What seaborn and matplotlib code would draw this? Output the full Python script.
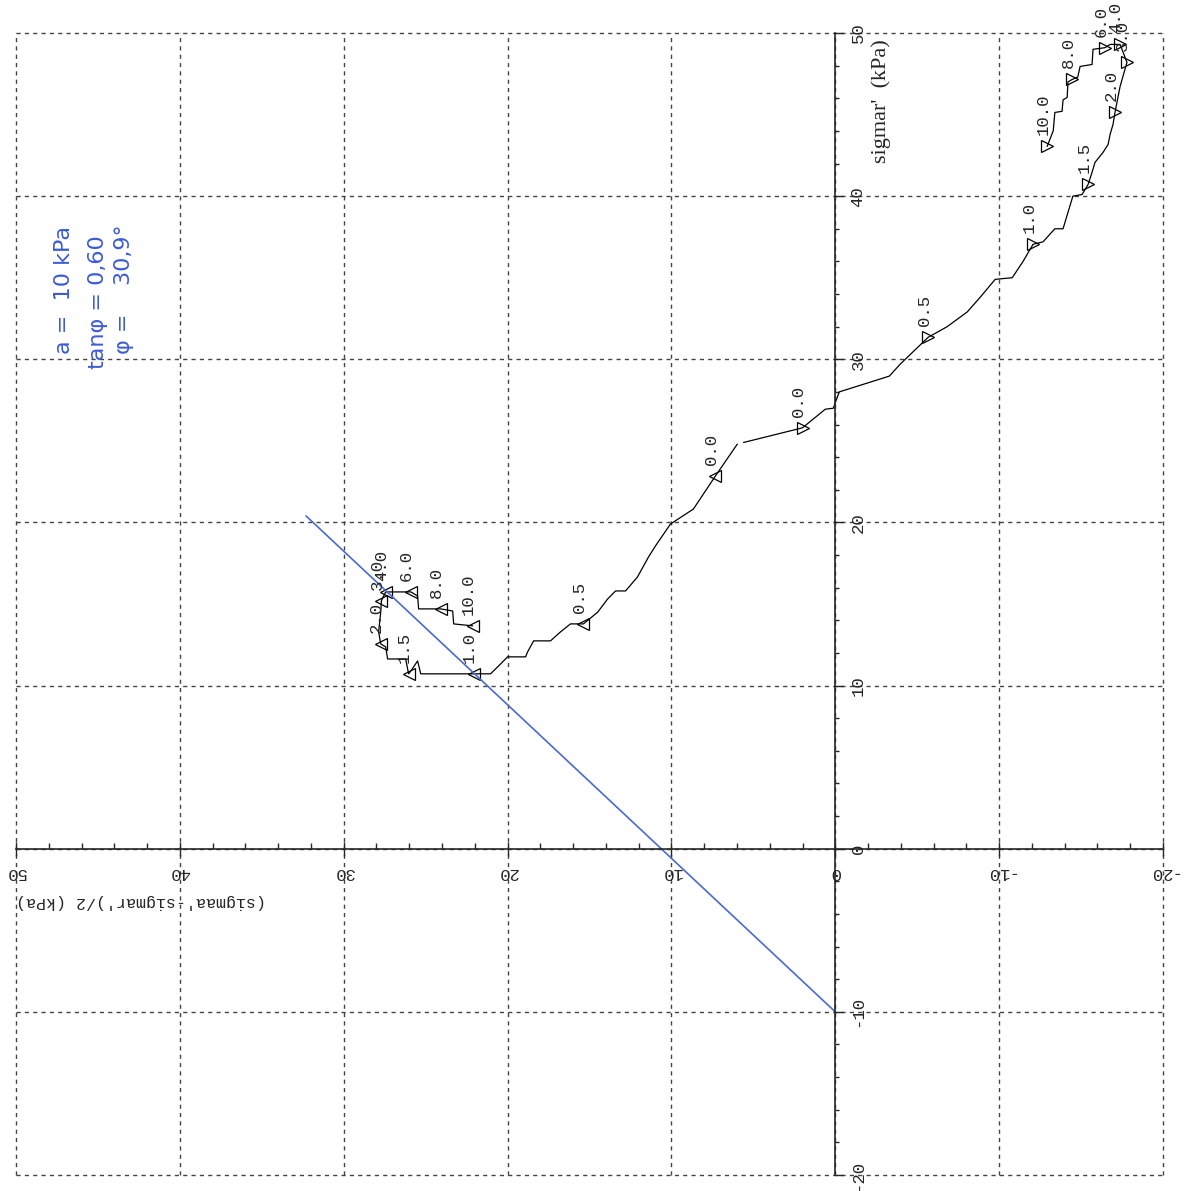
import matplotlib
matplotlib.use("Agg")
import matplotlib.pyplot as plt
from matplotlib.ticker import MultipleLocator
import seaborn as sns

# stress paths read off the (rotated) plot
# q = (sigmaa'-sigmar')/2, s = sigmar'
q_ext = [5.6, 2.0, 0.61, 0.12, -0.24, -3.3, -3.96, -4.27, -5.67, -6.83, -8.05, -8.84, -9.76,
         -10.8, -11.46, -12.07, -12.68, -13.4, -13.9, -14.2, -14.5, -15.06, -15.43, -15.67,
         -15.85, -16.34, -16.65, -16.77, -16.95, -17.07, -17.38, -17.8, -17.38, -16.77, -16.46,
         -15.73, -15.67, -14.94, -14.8, -14.45, -14.2, -14.15, -13.9, -13.84, -13.4, -13.3, -12.93]
s_ext = [24.9, 25.8, 26.94, 27.0, 28.0, 28.97, 29.7, 30.0, 31.35, 32.0, 32.9, 33.8, 34.9,
         35.0, 36.0, 37.05, 37.2, 38.0, 38.0, 39.0, 40.0, 40.1, 40.72, 41.46,
         42.07, 42.68, 43.17, 43.78, 44.4, 45.13, 46.72, 48.2, 49.3, 49.3, 49.1,
         49.0, 48.07, 47.95, 47.3, 47.15, 47.0, 46.05, 45.9, 45.2, 45.13, 44.0, 43.05]

q_cmp = [5.98, 7.32, 8.66, 10.06, 10.98, 11.4, 12.07, 12.8, 13.41, 13.9, 14.5, 15.37, 16.16,
         16.77, 17.38, 18.41, 18.78, 18.9, 20.0, 20.55, 21.04, 22.07, 25.3, 25.49, 25.9, 26.04,
         26.22, 27.32, 27.44, 27.74, 27.87, 27.74, 27.7, 27.44, 25.9, 25.49, 25.43, 24.09,
         23.35, 23.29, 22.13]
s_cmp = [24.8, 22.84, 20.82, 19.9, 18.55, 17.88, 16.66, 15.8, 15.8, 15.3, 14.5, 13.78, 13.78,
         13.29, 12.74, 12.74, 12.06, 11.76, 11.76, 11.2, 10.72, 10.72, 10.72, 11.51, 10.9, 10.72,
         11.63, 11.63, 12.37, 12.55, 13.29, 14.51, 15.2, 15.74, 15.74, 15.49, 14.7, 14.7,
         14.57, 13.78, 13.66]

times = ["0.0", "0.5", "1.0", "1.5", "2.0", "3.0", "4.0", "6.0", "8.0", "10.0"]
q_ext_mark = [2.0, -5.67, -12.07, -15.43, -17.07, -17.8, -17.38, -16.46, -14.45, -12.93]
s_ext_mark = [25.8, 31.35, 37.05, 40.72, 45.13, 48.2, 49.3, 49.1, 47.15, 43.05]
q_cmp_mark = [7.32, 15.37, 22.07, 26.04, 27.74, 27.7, 27.44, 25.9, 24.09, 22.13]
s_cmp_mark = [22.84, 13.78, 10.72, 10.72, 12.55, 15.2, 15.74, 15.74, 14.7, 13.66]

# hand drawn failure line
q_fail = [0.0, 32.3]
s_fail = [-10.0, 20.4]

notes = ["a =  10 kPa", "tan\u03c6 = 0,60", "\u03c6 =    30,9\u00b0"]

sns.set_style("white")
plt.rcParams["font.family"] = ["Liberation Mono", "DejaVu Sans"]
plt.rcParams["axes.unicode_minus"] = False

fig = plt.figure(figsize=(11.84, 11.91), dpi=100)
ax = fig.add_axes([16 / 1184, 1 - 1175 / 1191, 1147 / 1184, 1142 / 1191])

sns.lineplot(x=q_ext, y=s_ext, sort=False, estimator=None, color="black", lw=0.9, ax=ax)
sns.lineplot(x=q_cmp, y=s_cmp, sort=False, estimator=None, color="black", lw=0.9, ax=ax)
ax.plot(q_ext_mark, s_ext_mark, ">", ms=8.5, mfc="none", mec="black", mew=0.9)
ax.plot(q_cmp_mark, s_cmp_mark, "<", ms=8.5, mfc="none", mec="black", mew=0.9)
for qs, ss in [(q_ext_mark, s_ext_mark), (q_cmp_mark, s_cmp_mark)]:
    for t, qv, sv in zip(times, qs, ss):
        ax.annotate(t, (qv, sv), xytext=(-3, 8), textcoords="offset points",
                    rotation=90, ha="center", va="bottom", fontsize=12.5,
                    annotation_clip=False)

sns.lineplot(x=q_fail, y=s_fail, sort=False, estimator=None, color="#4a6ad0", lw=1.2, ax=ax)

ax.set_xlim(50, -20)
ax.set_ylim(-20, 50)

for sp in ["top", "left"]:
    ax.spines[sp].set_visible(False)
ax.spines["bottom"].set_position(("data", 0))
ax.spines["right"].set_position(("data", 0))
ax.spines["bottom"].set_linewidth(1.2)
ax.spines["right"].set_linewidth(1.2)
ax.yaxis.set_ticks_position("right")
ax.xaxis.set_ticks_position("bottom")

ax.xaxis.set_major_locator(MultipleLocator(10))
ax.xaxis.set_minor_locator(MultipleLocator(2))
ax.yaxis.set_major_locator(MultipleLocator(10))
ax.yaxis.set_minor_locator(MultipleLocator(2))
ax.tick_params(axis="x", which="major", direction="inout", length=10, width=1, pad=7,
               labelsize=12.5, labelrotation=180)
ax.tick_params(axis="x", which="minor", direction="in", length=4, width=1)
ax.tick_params(axis="y", which="major", direction="out", length=6, width=1, pad=5,
               labelsize=12.5, labelrotation=90)
ax.tick_params(axis="y", which="minor", direction="out", length=3, width=1)
for lab in ax.get_yticklabels():
    lab.set_va("center")

ax.grid(True, which="major", linestyle=(0, (3, 3)), color="#444444", linewidth=1)
for gl in ax.get_xgridlines() + ax.get_ygridlines():
    gl.set_clip_on(False)

ax.text(50, -3.25, "(sigmaa'-sigmar')/2 (kPa)", rotation=180, ha="left", va="center", fontsize=12)
ax.text(-2.8, 49.6, "sigmar'  (kPa)", rotation=90, ha="center", va="top", fontsize=16,
        family="Liberation Serif")

for txt, qv, sv in zip(notes, [47.1, 45.0, 43.4], [30.3, 29.4, 30.3]):
    ax.text(qv, sv, txt, rotation=90, ha="center", va="bottom", fontsize=16,
            color="#3b5bd6", family="DejaVu Sans")

fig.savefig("out.png", dpi=100)
